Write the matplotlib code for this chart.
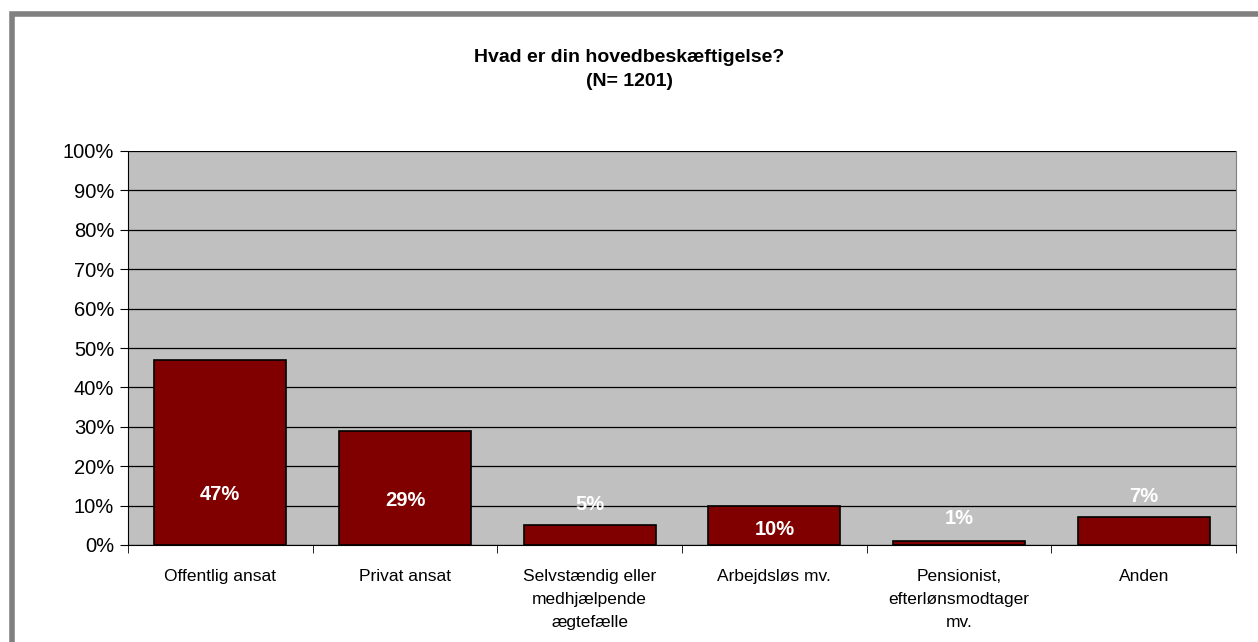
import numpy as np
import matplotlib.pyplot as plt
from matplotlib.patches import Rectangle

plt.rcParams['font.family'] = ['Liberation Sans', 'DejaVu Sans']

# Data
categories = ['Offentlig ansat', 'Privat ansat', 'Selvstændig eller\nmedhjælpende\nægtefælle',
              'Arbejdsløs mv.', 'Pensionist,\nefterlønsmodtager\nmv.', 'Anden']
values = [47, 29, 5, 10, 1, 7]
value_labels = ['47%', '29%', '5%', '10%', '1%', '7%']
yticks = [0, 10, 20, 30, 40, 50, 60, 70, 80, 90, 100]

# label heights as placed in the original (percent units)
label_y = [12.7, 11.4, 10.2, 3.9, 6.6, 12.2]

fig = plt.figure(figsize=(12.58, 6.42), dpi=100)
ax = fig.add_axes([128/1258, 1 - 545/642, (1236-128)/1258, (545-151)/642])
ax.set_facecolor('#C0C0C0')

x = np.arange(len(categories))
ax.bar(x, values, width=0.715, color='#800000', edgecolor='black', linewidth=1.2, zorder=3)

for xi, lab, ly in zip(x, value_labels, label_y):
    ax.text(xi, ly, lab, ha='center', va='center', color='white', fontsize=14.5,
            fontweight='bold', zorder=4)

ax.set_xlim(-0.5, len(categories) - 0.5)
ax.set_ylim(0, 100)
ax.set_yticks(yticks)
ax.set_yticklabels([f'{t}%' for t in yticks], fontsize=14.5)
ax.yaxis.grid(True, color='black', linewidth=0.9, zorder=1)
ax.set_axisbelow(True)

ax.set_xticks(x)
ax.set_xticklabels(categories, fontsize=12.5, linespacing=1.7)
ax.tick_params(axis='x', length=0, pad=17)
ax.set_xticks(np.arange(len(categories) + 1) - 0.5, minor=True)
ax.tick_params(axis='x', which='minor', length=6, color='black')
ax.tick_params(axis='y', length=6, color='black', pad=4)

ax.spines['right'].set_color('#808080')
ax.spines['top'].set_visible(False)
ax.spines['left'].set_color('black')
ax.spines['bottom'].set_color('black')

fig.text(0.5, 1 - 58/642, 'Hvad er din hovedbeskæftigelse?', ha='center', va='center',
         fontsize=14, fontweight='bold')
fig.text(0.5, 1 - 81/642, '(N= 1201)', ha='center', va='center',
         fontsize=14, fontweight='bold')

# outer chart frame (only top and left edges are visible in the crop)
fig.patches.append(Rectangle((11.5/1258, -0.1), 1.2, 1 - 13.5/642 + 0.1, transform=fig.transFigure,
                             fill=False, edgecolor='#808080', linewidth=4))

fig.savefig('out.png', dpi=100, facecolor='white')
